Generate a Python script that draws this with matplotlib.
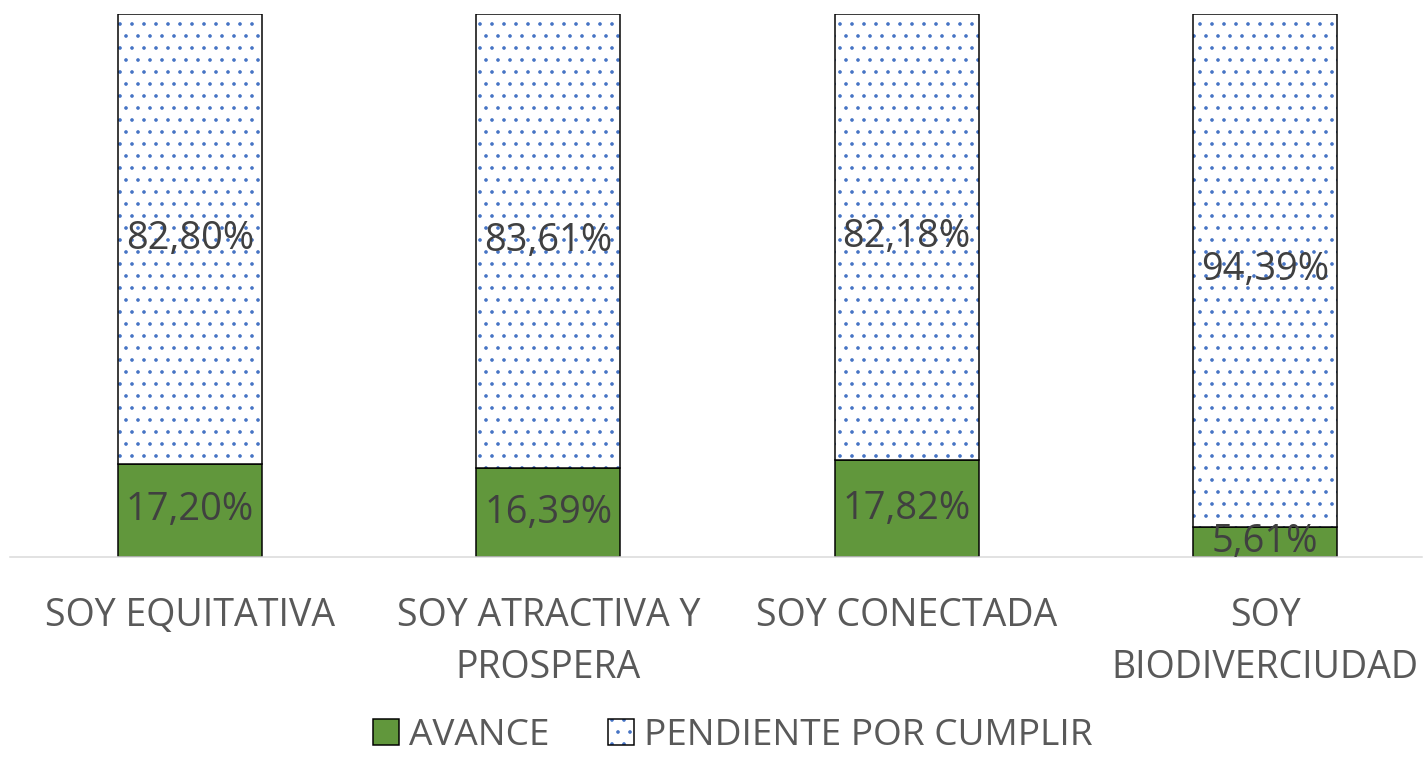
import matplotlib
matplotlib.use("Agg")
import matplotlib.pyplot as plt
import numpy as np

# Datos
categorias = ["SOY EQUITATIVA", "SOY ATRACTIVA Y\nPROSPERA", "SOY CONECTADA", "SOY\nBIODIVERCIUDAD"]
avance = [17.20, 16.39, 17.82, 5.61]
pendiente = [82.80, 83.61, 82.18, 94.39]
serie_avance = "AVANCE"
serie_pendiente = "PENDIENTE POR CUMPLIR"

plt.rcParams["font.family"] = ["Open Sans", "DejaVu Sans"]
plt.rcParams["hatch.linewidth"] = 1.2

VERDE = "#61973C"
AZUL = "#4472C4"
GRIS_TEXTO = "#595959"
GRIS_DATO = "#404040"

# dpi 72 -> 1 pt = 1 px, y el patrón de puntos queda más denso
DPI = 72
W, H = 1423, 757
fig = plt.figure(figsize=(W / DPI, H / DPI), dpi=DPI)
ax = fig.add_axes([10 / W, (H - 557) / H, 1412 / W, 543 / H])

x = np.arange(len(categorias))
ancho = 0.402

b_av = ax.bar(x, avance, width=ancho, color=VERDE, edgecolor="black", linewidth=1.5, zorder=2)
b_pen = ax.bar(x, pendiente, bottom=avance, width=ancho, facecolor="white",
               edgecolor=AZUL, linewidth=0, hatch=".", zorder=2)
b_pen_borde = ax.bar(x, pendiente, bottom=avance, width=ancho, fill=False,
                     edgecolor="black", linewidth=1.5, zorder=3)

for i in range(len(categorias)):
    ax.text(x[i], avance[i] / 2, f"{avance[i]:.2f}%".replace(".", ","),
            ha="center", va="center", fontsize=38, color=GRIS_DATO, zorder=4)
    ax.text(x[i], avance[i] + pendiente[i] / 2, f"{pendiente[i]:.2f}%".replace(".", ","),
            ha="center", va="center", fontsize=38, color=GRIS_DATO, zorder=4)

ax.set_xlim(-0.502, 3.438)
ax.set_ylim(0, 100)
ax.set_xticks(x)
ax.set_xticklabels(categorias, fontsize=37.5, color=GRIS_TEXTO, linespacing=1.5)
ax.tick_params(axis="x", length=0, pad=40)
ax.set_yticks([])
for lado in ["top", "left", "right"]:
    ax.spines[lado].set_visible(False)
ax.spines["bottom"].set_color("#D9D9D9")
ax.spines["bottom"].set_linewidth(1.5)

fig.legend([b_av, (b_pen, b_pen_borde)], [serie_avance, serie_pendiente],
           loc="center", bbox_to_anchor=(733 / W, 1 - 736 / H), ncol=2,
           frameon=False, fontsize=37, labelcolor=GRIS_TEXTO, borderpad=0.1,
           handlelength=0.7, handleheight=0.7, handletextpad=0.27, columnspacing=1.6)

fig.savefig("out.png", dpi=DPI)
